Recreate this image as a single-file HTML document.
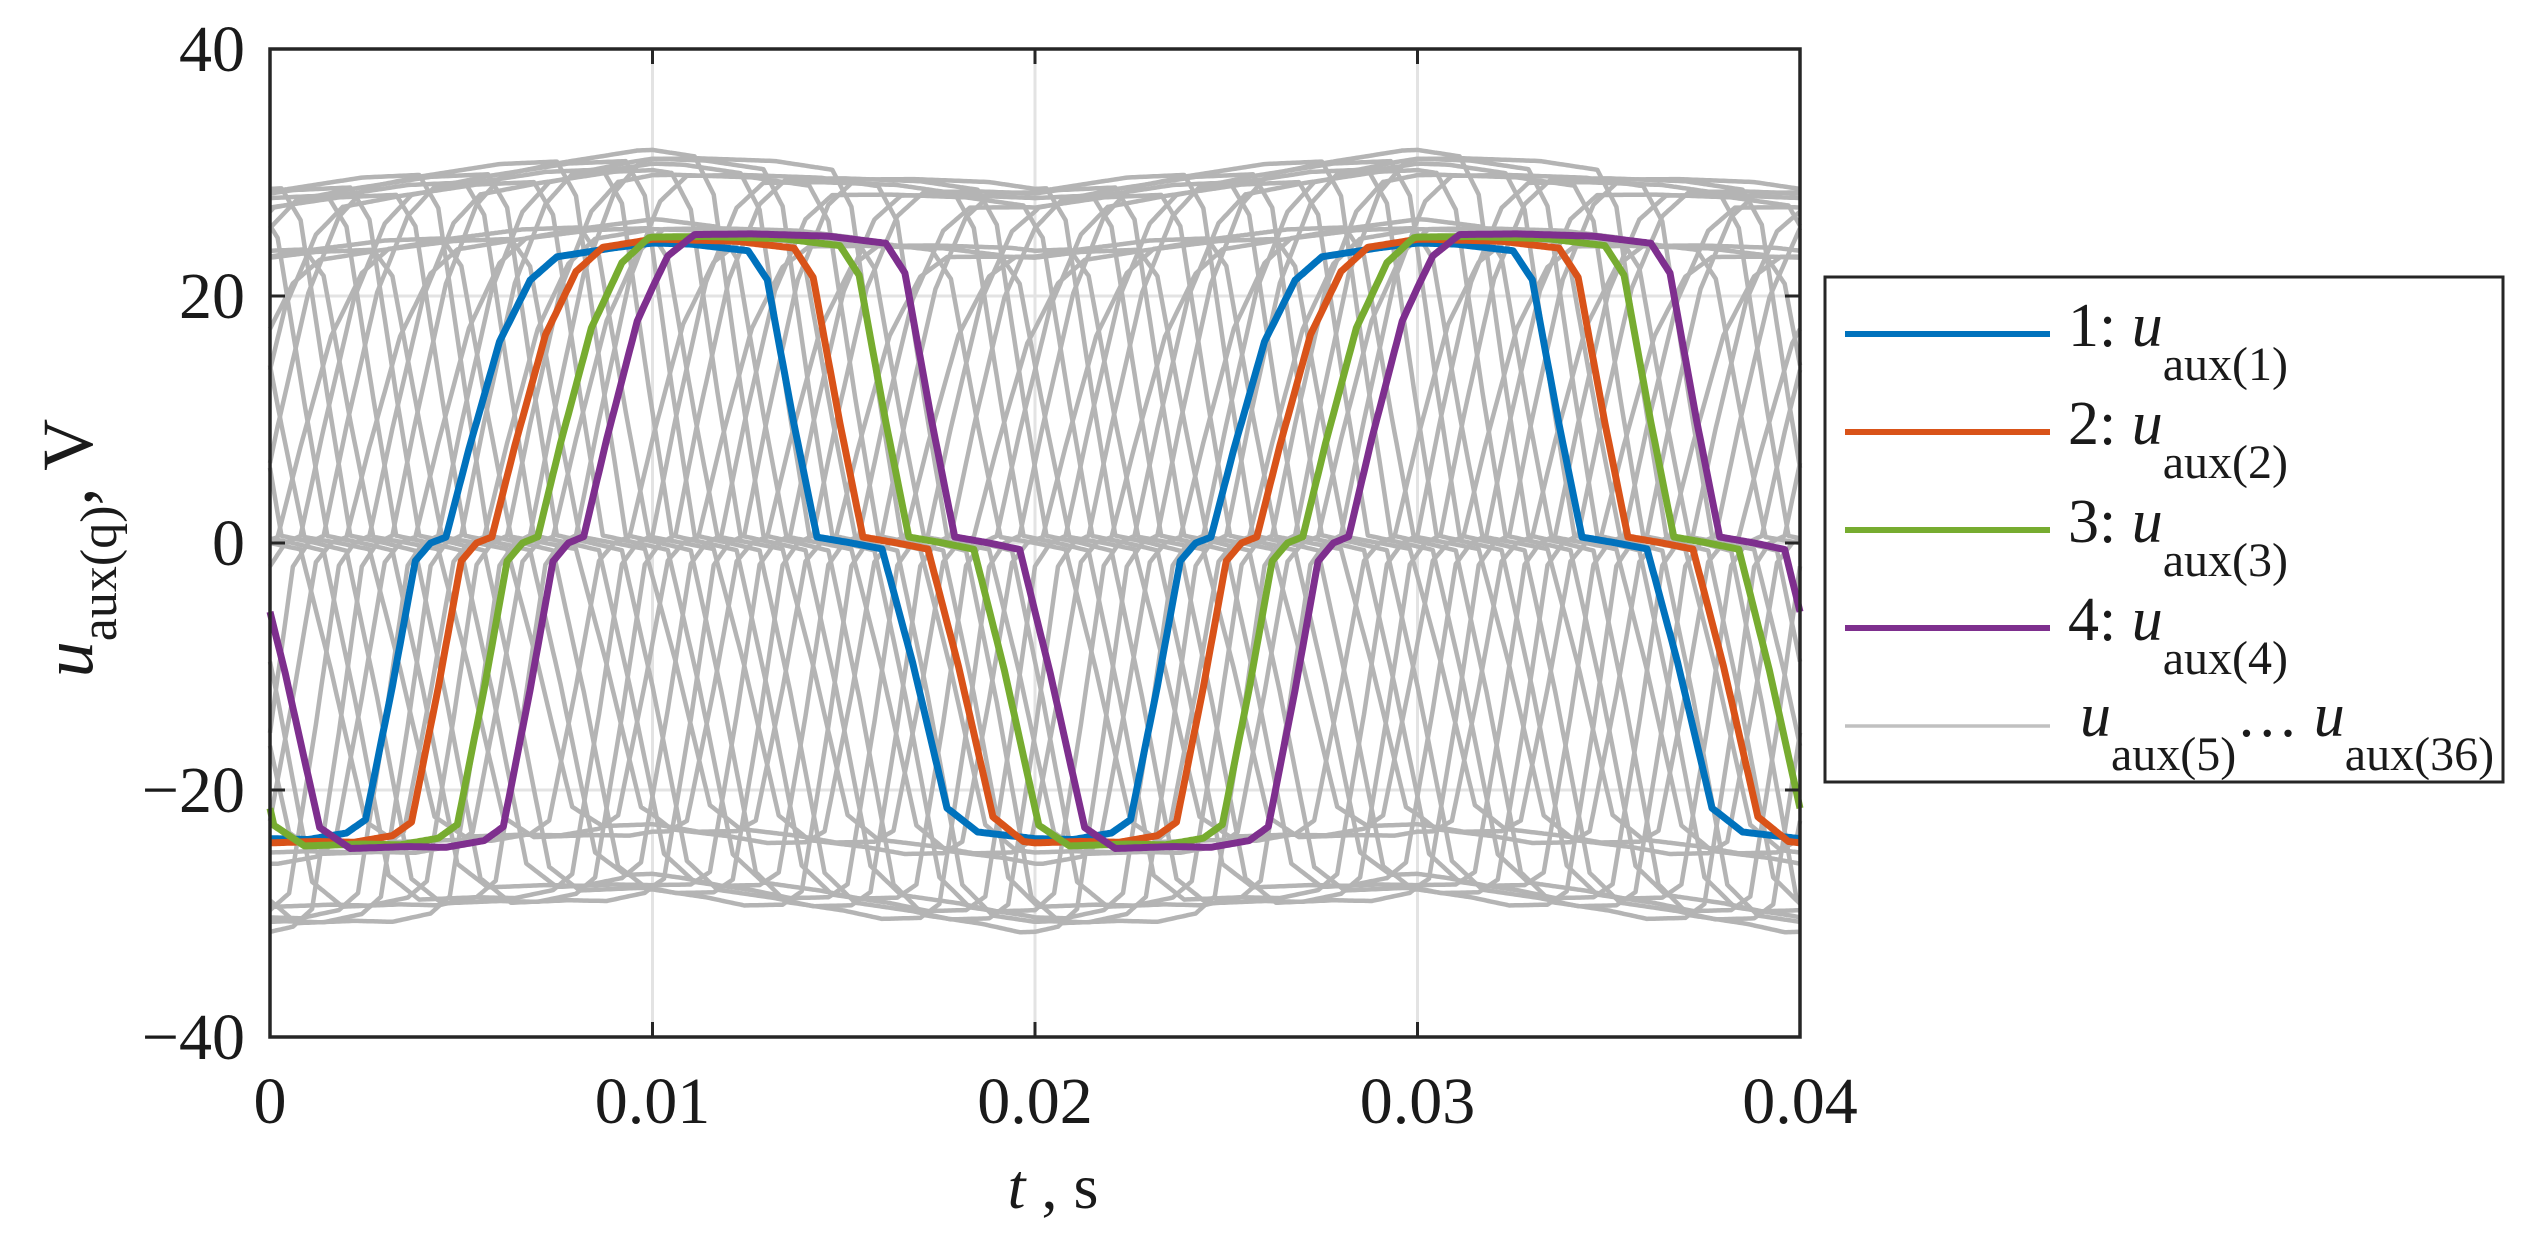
<!DOCTYPE html>
<html><head><meta charset="utf-8">
<style>
html,body{margin:0;padding:0;background:#fff;}
svg{display:block;}
text{font-family:"Liberation Serif","DejaVu Serif",serif;fill:#1a1a1a;}
</style></head>
<body>
<svg id="chart" width="2540" height="1244" viewBox="0 0 2540 1244" xmlns="http://www.w3.org/2000/svg">
  <rect x="0" y="0" width="2540" height="1244" fill="#fff"/>
  <g id="grid"></g>
  <g id="series"></g>
  <g id="axes"></g>
  <text x="92" y="548" font-size="72" text-anchor="middle" transform="rotate(-90 92 548)"><tspan font-style="italic">u</tspan><tspan font-size="52" dy="24">aux(q)</tspan><tspan dy="-24">, V</tspan></text>
  <text x="1053" y="1208" font-size="64" text-anchor="middle"><tspan font-style="italic">t</tspan> , s</text>
  <g id="legend">
    <rect x="1825" y="277" width="678" height="505" fill="#fff" stroke="#262626" stroke-width="3"/>
  </g>
</svg>
<script>
// ---- data ----
const baseT = [0,0.001,0.002,0.0025,0.0032,0.0038,0.0042,0.0046,0.0052,0.006,0.0068,0.0075,0.009,0.011,0.0125,0.013,0.0137,0.0143,0.0152,0.016,0.0168,0.0177,0.0185,0.02];
const baseV = [-24,-24.3,-24,-23,-12,-1.5,0,0.5,8,17,22,23.8,24.2,24.5,24.3,22,10,0.5,0,-0.5,-10,-22,-23.8,-24];
const colorNames = ["1","2","3","4"];
const colorShifts = [0,0.0012,0.0024,0.0036];
const colorScales = [0.95,0.97,0.99,1.01];
const colorStroke = ["#0072BD","#D95319","#77AC30","#7E2F8E"];
const grayShifts = [0.0048,0.0054,0.006,0.0066,0.0072,0.0078,0.0084,0.009,0.0096,0.0102,0.0108,0.0114,0.012,0.0126,0.0132,0.0138,0.0144,0.015,0.0156,0.0162,0.0168,0.0174,0.018,0.0186,0.0192,0.0198,0.0004,0.001,0.0016,0.0022,0.0028,0.0034];
const grayScales = [1.0,1.2,1.22,1.0,1.18,1.24,1.02,1.2,1.22,1.0,1.18,1.24,1.02,1.2,1.22,1.0,1.18,1.24,1.02,1.2,1.22,1.0,1.18,1.24,1.02,1.2,1.22,1.0,1.18,1.24,1.02,1.2];
const envT = [0,0.005,0.01,0.015,0.02];
const envOff = [-1.5,0,1.5,0,-1.5];
const xTicks = [0,0.01,0.02,0.03,0.04];
const xTickLabels = ["0","0.01","0.02","0.03","0.04"];
const yTicks = [-40,-20,0,20,40];
const yTickLabels = ["\u221240","\u221220","0","20","40"];

// ---- axes ----
const X0=270,X1=1800,Y0=1037,Y1=49;
const xs = t => X0 + (t-0)/(0.04-0)*(X1-X0);
const ys = v => Y0 - (v-(-40))/(80)*(Y0-Y1);
const NS="http://www.w3.org/2000/svg";
function interp(T,V,t){
  for(let i=0;i<T.length-1;i++){ if(t>=T[i]&&t<=T[i+1]){const f=(t-T[i])/(T[i+1]-T[i]);return V[i]+f*(V[i+1]-V[i]);} }
  return V[V.length-1];
}
function wave(t,shift,scale){
  let tt=((t-shift)%0.02+0.02)%0.02;
  let v=scale*interp(baseT,baseV,tt);
  let tm=((t%0.02)+0.02)%0.02;
  return v+interp(envT,envOff,tm)*Math.abs(v)/30;
}
function pathFor(shift,scale){
  let d="";
  for(let i=0;i<=800;i++){const t=0.04*i/800;d+=(i?"L":"M")+xs(t).toFixed(1)+" "+ys(wave(t,shift,scale)).toFixed(1);}
  return d;
}
const grid=document.getElementById('grid');
xTicks.forEach((t,i)=>{
  if(i>0&&i<xTicks.length-1){
    const l=document.createElementNS(NS,'line');
    l.setAttribute('x1',xs(t));l.setAttribute('x2',xs(t));l.setAttribute('y1',Y1);l.setAttribute('y2',Y0);
    l.setAttribute('stroke','#e3e3e3');l.setAttribute('stroke-width','3');
    
    
    grid.appendChild(l);
  }
});
yTicks.forEach((v,i)=>{
  if(i>0&&i<yTicks.length-1){
    const l=document.createElementNS(NS,'line');
    l.setAttribute('x1',X0);l.setAttribute('x2',X1);l.setAttribute('y1',ys(v));l.setAttribute('y2',ys(v));
    l.setAttribute('stroke','#e3e3e3');l.setAttribute('stroke-width','3');
    
    
    grid.appendChild(l);
  }
});
const sg=document.getElementById('series');
grayShifts.forEach((s,i)=>{
  const p=document.createElementNS(NS,'path');
  p.setAttribute('d',pathFor(s,grayScales[i]));
  p.setAttribute('fill','none');p.setAttribute('stroke','#b4b4b4');p.setAttribute('stroke-width','4.5');
  p.setAttribute('stroke-linejoin','round');
  
  
  sg.appendChild(p);
});
colorShifts.forEach((s,i)=>{
  const p=document.createElementNS(NS,'path');
  p.setAttribute('d',pathFor(s,colorScales[i]));
  p.setAttribute('fill','none');p.setAttribute('stroke',colorStroke[i]);p.setAttribute('stroke-width','7');
  p.setAttribute('stroke-linejoin','round');
  
  
  sg.appendChild(p);
});
const ax=document.getElementById('axes');
const frame=document.createElementNS(NS,'rect');
frame.setAttribute('x',X0);frame.setAttribute('y',Y1);frame.setAttribute('width',X1-X0);frame.setAttribute('height',Y0-Y1);
frame.setAttribute('fill','none');frame.setAttribute('stroke','#262626');frame.setAttribute('stroke-width','3.5');


ax.appendChild(frame);
xTicks.forEach((t,i)=>{
  [[Y0,Y0-15],[Y1,Y1+15]].forEach(pr=>{
    const l=document.createElementNS(NS,'line');
    l.setAttribute('x1',xs(t));l.setAttribute('x2',xs(t));l.setAttribute('y1',pr[0]);l.setAttribute('y2',pr[1]);
    l.setAttribute('stroke','#262626');l.setAttribute('stroke-width','3');
    
    
    ax.appendChild(l);
  });
  const tx=document.createElementNS(NS,'text');
  tx.setAttribute('x',xs(t));tx.setAttribute('y',1123);tx.setAttribute('font-size','66');tx.setAttribute('text-anchor','middle');
  tx.textContent=xTickLabels[i];
  
  
  ax.appendChild(tx);
});
yTicks.forEach((v,i)=>{
  [[X0,X0+15],[X1,X1-15]].forEach(pr=>{
    const l=document.createElementNS(NS,'line');
    l.setAttribute('x1',pr[0]);l.setAttribute('x2',pr[1]);l.setAttribute('y1',ys(v));l.setAttribute('y2',ys(v));
    l.setAttribute('stroke','#262626');l.setAttribute('stroke-width','3');
    
    
    ax.appendChild(l);
  });
  const tx=document.createElementNS(NS,'text');
  tx.setAttribute('x',245);tx.setAttribute('y',ys(v)+22);tx.setAttribute('font-size','66');tx.setAttribute('text-anchor','end');
  tx.textContent=yTickLabels[i];
  
  
  ax.appendChild(tx);
});
// legend
const lg=document.getElementById('legend');
const legY=[334,432,530,628,726];
const legStroke=["#0072BD","#D95319","#77AC30","#7E2F8E","#c0c0c0"];
const legW=[6,6,6,6,3.5];
legY.forEach((y,i)=>{
  const l=document.createElementNS(NS,'line');
  l.setAttribute('x1',1845);l.setAttribute('x2',2050);l.setAttribute('y1',y);l.setAttribute('y2',y);
  l.setAttribute('stroke',legStroke[i]);l.setAttribute('stroke-width',legW[i]);
  
  
  lg.appendChild(l);
  const tx=document.createElementNS(NS,'text');
  tx.setAttribute('font-size','62');
  if(i<4){
    tx.setAttribute('x',2068);tx.setAttribute('y',y+12);
    tx.innerHTML=(i+1)+':  <tspan font-style="italic">u</tspan><tspan font-size="48" dy="34">aux('+(i+1)+')</tspan>';
  } else {
    tx.setAttribute('x',2080);tx.setAttribute('y',y+10);
    tx.innerHTML='<tspan font-style="italic">u</tspan><tspan font-size="48" dy="34">aux(5)</tspan><tspan dy="-34">\u2026 </tspan><tspan font-style="italic">u</tspan><tspan font-size="48" dy="34">aux(36)</tspan>';
  }
  tx.setAttribute('xml:space','preserve');
  
  
  lg.appendChild(tx);
});
</script>
</body></html>
